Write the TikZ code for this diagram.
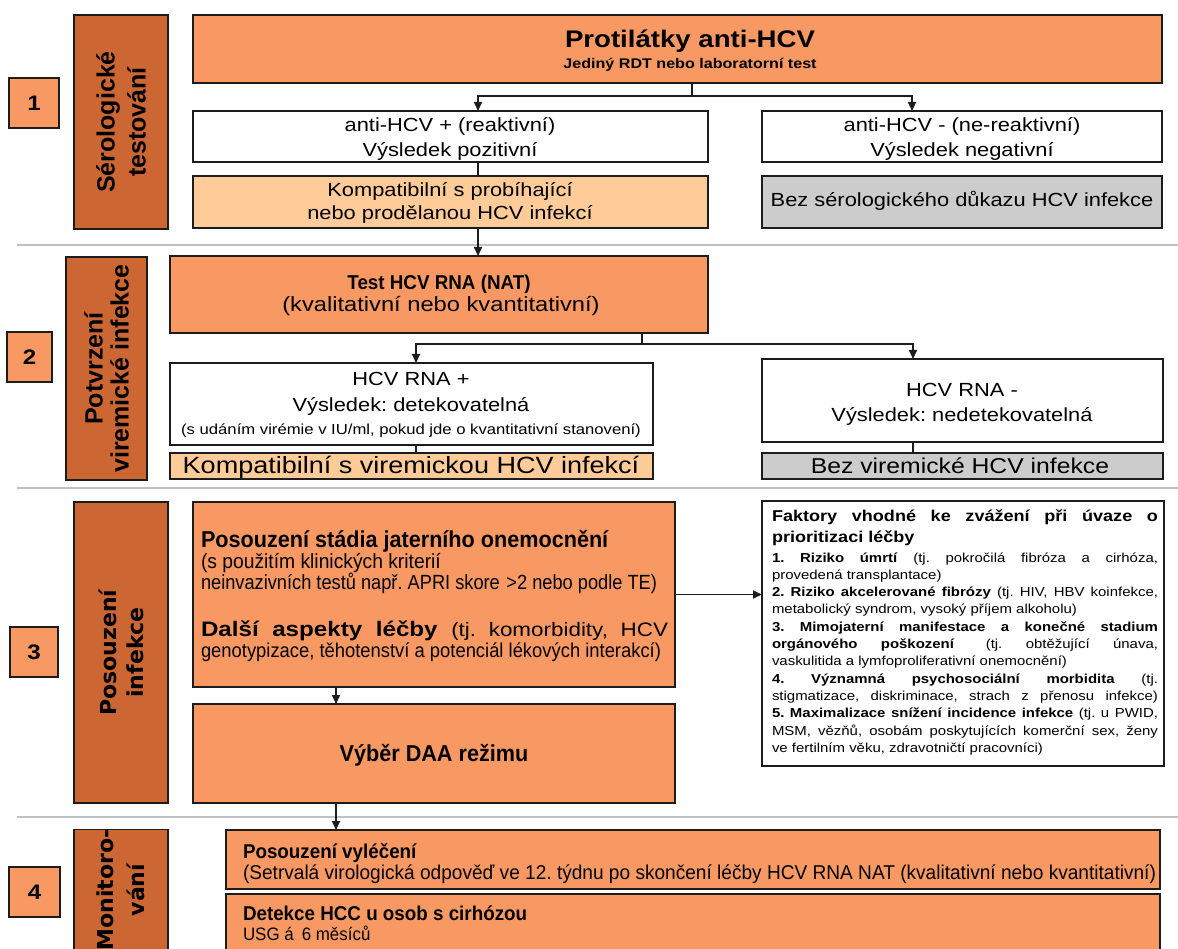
\documentclass[tikz,border=0pt]{standalone}
\usepackage{fontspec}
\usepackage{graphicx}
\setmainfont{Liberation Sans}[FakeStretch=1.15]
\newfontfamily\nar{Liberation Sans}[FakeStretch=0.94]
\newfontfamily\labf{Liberation Sans}
\newfontfamily\dvs{DejaVu Sans}
\usetikzlibrary{arrows.meta}
\definecolor{orng}{RGB}{248,153,100}
\definecolor{brwn}{RGB}{204,102,51}
\definecolor{lorng}{RGB}{255,204,153}
\definecolor{lgray}{RGB}{204,204,204}
\definecolor{sepc}{RGB}{192,192,192}
\definecolor{edge}{RGB}{28,28,28}
\newcommand\fs[2]{\fontsize{#1}{#2}\selectfont}
\newcommand\fw[2]{\resizebox{#1}{\height}{#2}}
\frenchspacing
\tikzset{
 bx/.style={draw=edge, line width=1.6pt, inner sep=0pt, outer sep=0pt},
 ob/.style={bx, fill=orng},
 wb/.style={bx, fill=white},
 lb/.style={bx, fill=lorng},
 gb/.style={bx, fill=lgray},
 nb/.style={bx, fill=orng, font=\rmfamily\bfseries\fs{21}{21}},
 db/.style={bx, fill=brwn, rotate=90, align=center},
 tx/.style={inner sep=0pt, outer sep=0pt, anchor=base},
 txl/.style={inner sep=0pt, outer sep=0pt, anchor=base west},
 ln/.style={draw=edge, line width=1.7pt},
 arr/.style={ln, -{Triangle[length=9pt,width=8pt]}},
 sepline/.style={draw=sepc, line width=2.5pt},
}
\newcommand\mkbox[7]{\node[#6, minimum width={(#4)-(#2)}, minimum height={(#5)-(#3)}] (#1) at ({((#2)+(#4))/2},{((#3)+(#5))/2}) {#7};}
\newcommand\mklab[7]{\node[#6, minimum width={(#5)-(#3)}, minimum height={(#4)-(#2)}] (#1) at ({((#2)+(#4))/2},{((#3)+(#5))/2}) {#7};}
\begin{document}
\begin{tikzpicture}[x=1pt,y=-1pt]
\useasboundingbox (0,0) rectangle (1178,949);
\clip (0,0) rectangle (1178,949);
\fill[white] (0,0) rectangle (1178,949);
% separators
\draw[sepline] (17,245) -- (1178,245);
\draw[sepline] (17,488) -- (1178,488);
\draw[sepline] (17,817) -- (1178,817);

% ---------- section 1
\mkbox{n1}{9}{78}{59}{128}{nb}{1}
\mklab{lab1}{74}{15}{168}{229}{db,font=\labf\bfseries\fs{25}{31}}{Sérologické\\testování}
\mkbox{t1}{193}{15}{1162}{83}{ob}{}
\mkbox{w1l}{193}{111}{708}{162}{wb}{}
\mkbox{w1r}{762}{111}{1162}{162}{wb}{}
\mkbox{k1}{193}{176}{708}{228}{lb}{}
\mkbox{g1}{762}{176}{1162}{228}{gb}{}
\node[tx,font=\bfseries\fs{24}{24}] (t1a) at (690,48) {Protilátky anti-HCV};
\node[tx,font=\bfseries\fs{14}{14}] (t1b) at (690,69) {Jediný RDT nebo laboratorní test};
\node[tx,font=\fs{19}{19}] (w1la) at (450,132) {anti-HCV + (reaktivní)};
\node[tx,font=\fs{19}{19}] (w1lb) at (450,157) {Výsledek pozitivní};
\node[tx,font=\fs{19}{19}] (w1ra) at (962,132) {anti-HCV - (ne-reaktivní)};
\node[tx,font=\fs{19}{19}] (w1rb) at (962,157) {Výsledek negativní};
\node[tx,font=\fs{19}{19}] (k1a) at (450,197) {Kompatibilní s probíhající};
\node[tx,font=\fs{19}{19}] (k1b) at (450,220) {nebo prodělanou HCV infekcí};
\node[tx,font=\fs{19}{19}] (g1a) at (962,207) {Bez sérologického důkazu HCV infekce};
\coordinate (j1) at (692,96);
\coordinate (a1) at (478,96);
\coordinate (b1) at (912,96);
\draw[ln] (t1.south -| j1) -- (j1);
\draw[arr] (j1) -- (a1) -- (w1l.north -| a1);
\draw[arr] (j1) -- (b1) -- (w1r.north -| b1);
\draw[ln] (w1l.south -| a1) -- (k1.north -| a1);

% ---------- section 2
\mkbox{n2}{7}{332}{52}{382}{nb}{2}
\mklab{lab2}{66}{257}{147}{480}{db,font=\labf\bfseries\fs{25}{26}}{Potvrzení\\viremické infekce}
\mkbox{tr}{170}{256}{708}{333}{ob}{}
\mkbox{w2l}{170}{363}{653}{445}{wb}{}
\mkbox{w2r}{762}{359}{1163}{442}{wb}{}
\mkbox{k2}{170}{453}{653}{479}{lb}{}
\mkbox{g2}{762}{453}{1163}{479}{gb}{}
\draw[arr] (k1.south -| a1) -- (tr.north -| a1);
\node[tx,font=\nar\bfseries\fs{20}{20}] (tra) at (439,290) {Test HCV RNA (NAT)};
\node[tx,font=\fs{20.6}{20}] (trb) at (441,312) {(kvalitativní nebo kvantitativní)};
\node[tx,font=\fs{19}{19}] (w2la) at (411,386) {HCV RNA +};
\node[tx,font=\fs{19}{19}] (w2lb) at (411,412) {Výsledek: detekovatelná};
\node[tx,font=\fs{14.5}{14.5}] (w2lc) at (411,434) {(s udáním virémie v IU/ml, pokud jde o kvantitativní stanovení)};
\node[tx,font=\fs{19}{19}] (w2ra) at (962,396) {HCV RNA -};
\node[tx,font=\fs{19}{19}] (w2rb) at (962,421) {Výsledek: nedetekovatelná};
\node[tx,font=\fs{23.5}{23}] (k2a) at (411,473) {Kompatibilní s viremickou HCV infekcí};
\node[tx,font=\fs{21.5}{22}] (g2a) at (960,473) {Bez viremické HCV infekce};
\coordinate (j2) at (642,344);
\coordinate (a2) at (416,344);
\coordinate (b2) at (913,344);
\draw[ln] (tr.south -| j2) -- (j2);
\draw[arr] (j2) -- (a2) -- (w2l.north -| a2);
\draw[arr] (j2) -- (b2) -- (w2r.north -| b2);
\draw[ln] (w2l.south -| a2) -- (k2.north -| a2);
\draw[ln] (w2r.south -| b2) -- (g2.north -| b2);

% ---------- section 3
\mkbox{n3}{10}{627}{58}{677}{nb}{3}
\mklab{lab3}{74}{502}{168}{803}{db,font=\dvs\bfseries\fs{22}{27}}{Posouzení\\infekce}
\mkbox{p1}{193}{502}{675}{687}{ob}{}
\mkbox{p2}{193}{704}{675}{803}{ob}{}
\mkbox{fac}{762}{501}{1164}{766}{wb}{}
\node[txl] (p1t) at (201,547) {\parbox[t]{467pt}{\parindent=0pt
{\nar\bfseries\fs{23}{23}Posouzení stádia jaterního onemocnění\par}
{\nar\fs{20.5}{21}(s použitím klinických kriterií\par}
{\nar\fs{20.5}{21}\fw{456pt}{neinvazivních testů např. APRI skore\hspace{7pt}>2 nebo podle TE)}\par}
{\rmfamily\fs{20}{47}\makebox[467pt][s]{\bfseries\fs{21}{47}Další aspekty léčby \mdseries\fs{19.5}{47}(tj. komorbidity, HCV}\par}
{\nar\fs{20}{21}\fw{460pt}{genotypizace, těhotenství a potenciál lékových interakcí)}\par}}};
\node[tx,font=\nar\bfseries\fs{23}{23}] (p2t) at (434,761) {Výběr DAA režimu};
\node[txl] (fact) at (772,521) {\parbox[t]{386pt}{\parindent=0pt\rmfamily
{\bfseries\fs{15.7}{21}\makebox[386pt][s]{Faktory vhodné ke zvážení při úvaze o}\par
prioritizaci léčby\par}
{\fs{13}{20}\makebox[386pt][s]{\textbf{1. Riziko úmrtí} (tj. pokročilá fibróza a cirhóza,}\par}
\fs{13}{17.3}provedená transplantace)\par
\makebox[386pt][s]{\textbf{2. Riziko akcelerované fibrózy} (tj. HIV, HBV koinfekce,}\par
metabolický syndrom, vysoký příjem alkoholu)\par
\makebox[386pt][s]{\textbf{3. Mimojaterní manifestace a konečné stadium}}\par
\makebox[386pt][s]{\textbf{orgánového poškození}\hspace{8pt} (tj. obtěžující únava,}\par
vaskulitida a lymfoproliferativní onemocnění)\par
\makebox[386pt][s]{\textbf{4. Významná psychosociální morbidita} (tj.}\par
\makebox[386pt][s]{stigmatizace, diskriminace, strach z přenosu infekce)}\par
\makebox[386pt][s]{\textbf{5. Maximalizace snížení incidence infekce} (tj. u PWID,}\par
\makebox[386pt][s]{MSM, vězňů, osobám poskytujících komerční sex, ženy}\par
ve fertilním věku, zdravotničtí pracovníci)\par}};
\coordinate (c3) at (336,700);
\draw[arr] (p1.south -| c3) -- (p2.north -| c3);
\draw[arr] (p1.east) -- (fac.west |- p1.east);

% ---------- section 4
\mkbox{n4}{9}{867}{60}{917}{nb}{4}
\mklab{lab4}{74}{830}{168}{950}{db,font=\dvs\bfseries\fs{22}{31}}{Monitoro-\\vání}
\mkbox{s4a}{226}{830}{1160}{889}{ob}{}
\mkbox{s4b}{226}{894}{1160}{960}{ob}{}
\draw[arr] (p2.south -| c3) -- (s4a.north -| c3);
\node[txl,font=\nar\bfseries\fs{20}{20}] (s4a1) at (243,858) {Posouzení vyléčení};
\node[txl,font=\nar\fs{20}{20}] (s4a2) at (243,879) {\fw{913pt}{(Setrvalá virologická odpověď ve 12. týdnu po skončení léčby HCV RNA NAT (kvalitativní nebo kvantitativní)}};
\node[txl,font=\nar\bfseries\fs{20}{20}] (s4b1) at (243,920) {Detekce HCC u osob s cirhózou};
\node[txl,font=\nar\fs{18}{18}] (s4b2) at (243,940) {USG á\hspace{8pt}6 měsíců};
\end{tikzpicture}
\end{document}
